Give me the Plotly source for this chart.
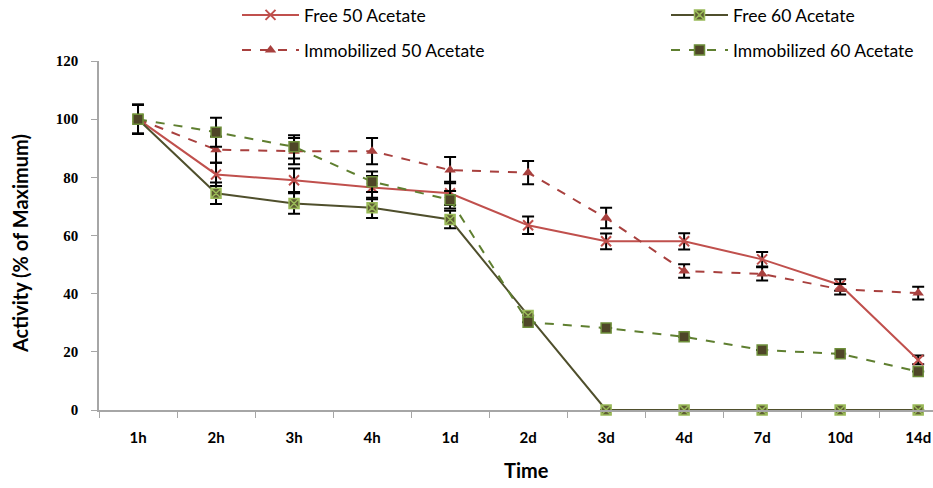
import plotly.graph_objects as go

times = ["1h", "2h", "3h", "4h", "1d", "2d", "3d", "4d", "7d", "10d", "14d"]

free50 = [100, 81, 79, 76.5, 74.5, 63.5, 58, 58, 51.8, 43, 17.2]
free50_err = [5, 4, 4, 4, 4, 3, 2.7, 2.8, 2.5, 2, 1.5]

free60 = [100, 74.5, 71, 69.5, 65.5, 32.5, 0, 0, 0, 0, 0]
free60_err = [5, 3.7, 3.5, 3.5, 3, 0, 0, 0, 0, 0, 0]

imm50 = [100, 89.5, 89, 89, 82.5, 81.6, 66, 47.8, 46.8, 41.5, 40.2]
imm50_err = [5, 4.5, 4.5, 4.5, 4.5, 4, 3.5, 2.3, 2.3, 1.8, 2.2]

imm60 = [100, 95.5, 90.5, 78.5, 72.3, 30.2, 28.2, 25.2, 20.6, 19.3, 13.2]
imm60_err = [5, 5, 4, 3.5, 3, 0, 0, 0, 0, 0, 0]

W, H = 933, 488

fig = go.Figure()

def eb(vals):
    return dict(type="data", array=vals, visible=True, color="black", thickness=2, width=6)

fig.add_trace(go.Scatter(
    x=times, y=free50, name="Free 50 Acetate", mode="lines+markers", legend="legend",
    line=dict(color="#C0504D", width=2),
    marker=dict(symbol="x-thin-open", size=10, color="#C0504D", line=dict(color="#C0504D", width=2)),
    error_y=eb(free50_err), cliponaxis=False))

fig.add_trace(go.Scatter(
    x=times, y=free60, name="Free 60 Acetate", mode="lines+markers", legend="legend2",
    line=dict(color="#4F4F2C", width=2),
    marker=dict(symbol="square-x", size=10, color="#5E5E34", line=dict(color="#9BBB59", width=1.5)),
    error_y=eb(free60_err), cliponaxis=False))

fig.add_trace(go.Scatter(
    x=times, y=imm50, name="Immobilized 50 Acetate", mode="lines+markers", legend="legend3",
    line=dict(color="#A8403E", width=2, dash="dash"),
    marker=dict(symbol="triangle-up", size=10, color="#A8403E"),
    error_y=eb(imm50_err), cliponaxis=False))

fig.add_trace(go.Scatter(
    x=times, y=imm60, name="Immobilized 60 Acetate", mode="lines+markers", legend="legend4",
    line=dict(color="#5F7F30", width=2, dash="dash"),
    marker=dict(symbol="square", size=10, color="#4F4628", line=dict(color="#6E8F3A", width=1.5)),
    error_y=eb(imm60_err), cliponaxis=False))

def leg(xpx, ypx):
    return dict(xref="container", yref="container", x=xpx / W, y=1 - ypx / H,
                xanchor="left", yanchor="middle", font=dict(family="Lato", size=17.5),
                itemwidth=57, bgcolor="rgba(0,0,0,0)", borderwidth=0)

fig.update_layout(
    width=W, height=H,
    margin=dict(l=99, r=0, t=61, b=78, autoexpand=False),
    plot_bgcolor="white", paper_bgcolor="white",
    font=dict(family="Liberation Sans", color="black"),
    showlegend=True,
    legend=leg(237, 15),
    legend2=leg(666, 15),
    legend3=leg(237, 50),
    legend4=leg(666, 50),
    annotations=[
        dict(text="<b>Activity (% of Maximum)</b>", xref="paper", yref="paper",
             x=-(99 - 20) / (W - 99), y=(410 - 244) / (410 - 61), xanchor="center", yanchor="middle",
             textangle=-90, showarrow=False, font=dict(family="Lato", size=20)),
        dict(text="<b>Time</b>", xref="paper", yref="paper",
             x=(526 - 99) / (W - 99), y=-(470 - 410) / (410 - 61),
             xanchor="center", yanchor="middle", showarrow=False, font=dict(family="Lato", size=20)),
    ],
)

fig.update_xaxes(
    type="category", categoryorder="array", categoryarray=times,
    range=[-0.5, 10.19], showline=True, linecolor="#A6A6A6", linewidth=1.5,
    ticks="outside", tickson="boundaries", ticklen=6, tickcolor="#A6A6A6",
    showgrid=False, zeroline=False, ticklabelstandoff=13,
    tickfont=dict(family="Lato", size=15, weight="bold"),
)
fig.update_yaxes(
    range=[0, 120], dtick=20, showline=True, linecolor="#A6A6A6", linewidth=1.5,
    ticks="outside", ticklen=6, tickcolor="#A6A6A6",
    showgrid=False, zeroline=False, ticklabelstandoff=10,
    tickfont=dict(family="Liberation Serif", size=15, weight="bold"),
)

fig.write_html("out.html")
